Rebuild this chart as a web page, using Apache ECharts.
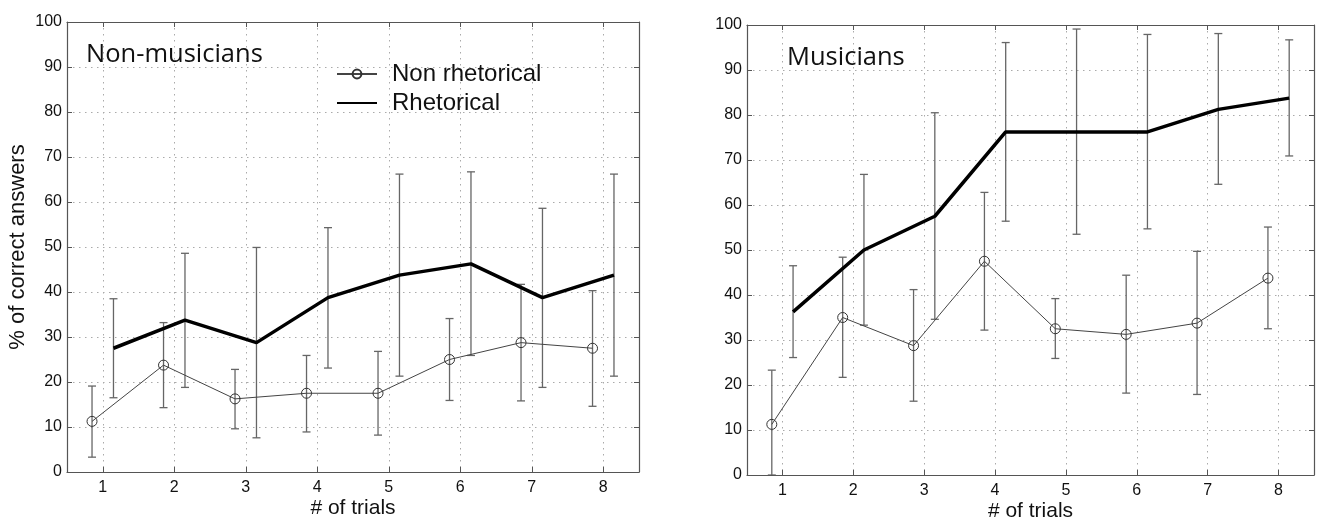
<!DOCTYPE html>
<html>
<head>
<meta charset="utf-8">
<script src="https://cdn.jsdelivr.net/npm/echarts@6/dist/echarts.min.js"></script>
<style>
  html, body { margin: 0; padding: 0; background: #fff; }
  #main { width: 1317px; height: 518px; }
</style>
</head>
<body>
<div id="main"></div>
<script>
// trials on the x axis
const trials = [1, 2, 3, 4, 5, 6, 7, 8];
const yTicks = [0, 10, 20, 30, 40, 50, 60, 70, 80, 90, 100];

// Non-musicians panel
const nmNonRhet = [11.25, 23.75, 16.25, 17.5, 17.5, 25, 28.75, 27.5];
const nmNonRhetLow = [3.3, 14.3, 9.6, 8.9, 8.2, 15.9, 15.8, 14.6];
const nmNonRhetHigh = [19.1, 33.2, 22.8, 25.9, 26.8, 34.1, 41.7, 40.3];
const nmRhet = [27.5, 33.75, 28.75, 38.75, 43.75, 46.25, 38.75, 43.75];
const nmRhetLow = [16.5, 18.8, 7.6, 23.1, 21.3, 25.9, 18.8, 21.3];
const nmRhetHigh = [38.5, 48.6, 49.9, 54.3, 66.2, 66.7, 58.6, 66.2];

// Musicians panel
const mNonRhet = [11.25, 35, 28.75, 47.5, 32.5, 31.25, 33.75, 43.75];
const mNonRhetLow = [0, 21.7, 16.4, 32.2, 25.9, 18.2, 17.9, 32.5];
const mNonRhetHigh = [23.3, 48.4, 41.2, 62.8, 39.2, 44.4, 49.7, 55.1];
const mRhet = [36.25, 50, 57.5, 76.25, 76.25, 76.25, 81.25, 83.75];
const mRhetLow = [26.1, 33.3, 34.6, 56.4, 53.5, 54.7, 64.6, 70.9];
const mRhetHigh = [46.5, 66.8, 80.5, 96.1, 99.1, 97.9, 98.1, 96.7];

const shift = 0.15; // points drawn slightly left / right of the trial
const font = "Liberation Sans";

const chart = echarts.init(document.getElementById("main"));

function pts(vals, dx) {
  return trials.map((t, i) => [t + dx, vals[i]]);
}
function bars(lo, hi, dx) {
  return trials.map((t, i) => [t + dx, lo[i], hi[i]]);
}

// vertical error bar with small caps
function errRender(params, api) {
  const top = api.coord([api.value(0), api.value(2)]);
  const bot = api.coord([api.value(0), api.value(1)]);
  const w = 4;
  const st = { stroke: "#666", lineWidth: 1.3 };
  return {
    type: "group",
    children: [
      { type: "line", shape: { x1: top[0], y1: top[1], x2: bot[0], y2: bot[1] }, style: st },
      { type: "line", shape: { x1: top[0] - w, y1: top[1], x2: top[0] + w, y2: top[1] }, style: st },
      { type: "line", shape: { x1: bot[0] - w, y1: bot[1], x2: bot[0] + w, y2: bot[1] }, style: st },
    ],
  };
}

const frame = { show: true, onZero: false, lineStyle: { color: "#555", width: 1.2 } };
const tick = { show: true, inside: true, length: 5, lineStyle: { color: "#555" } };
const dotted = { show: true, lineStyle: { color: "#aaa", type: [1.5, 4.5], width: 1 } };

function xAxes(gi) {
  return [
    {
      type: "value", gridIndex: gi, min: 0.5, max: 8.5, position: "bottom",
      axisLine: frame,
      axisTick: Object.assign({ customValues: trials }, tick),
      axisLabel: { customValues: trials, color: "#111", fontSize: 16, fontFamily: font, margin: 8 },
      splitLine: dotted,
      name: "# of trials",
      nameLocation: "middle", nameGap: 26, nameMoveOverlap: false,
      nameTextStyle: { color: "#111", fontSize: 21, fontFamily: font },
    },
    {
      type: "value", gridIndex: gi, min: 0.5, max: 8.5, position: "top",
      axisLine: frame,
      axisTick: Object.assign({ customValues: trials }, tick),
      axisLabel: { show: false },
      splitLine: { show: false },
    },
  ];
}

function yAxes(gi, name) {
  return [
    {
      type: "value", gridIndex: gi, min: 0, max: 100, interval: 10, position: "left",
      axisLine: frame, axisTick: tick,
      axisLabel: { color: "#111", fontSize: 16, fontFamily: font, margin: 5 },
      splitLine: dotted,
      name: name, nameLocation: "middle", nameGap: 38,
      nameTextStyle: { color: "#111", fontSize: 22, fontFamily: font },
    },
    {
      type: "value", gridIndex: gi, min: 0, max: 100, interval: 10, position: "right",
      axisLine: frame, axisTick: tick,
      axisLabel: { show: false }, splitLine: { show: false },
    },
  ];
}

function panel(gi, nonRhet, nonLo, nonHi, rhet, rLo, rHi) {
  const xi = gi * 2;
  const yi = gi * 2;
  return [
    {
      type: "custom", xAxisIndex: xi, yAxisIndex: yi, renderItem: errRender,
      data: bars(nonLo, nonHi, -shift), clip: true, z: 1,
    },
    {
      type: "custom", xAxisIndex: xi, yAxisIndex: yi, renderItem: errRender,
      data: bars(rLo, rHi, shift), clip: true, z: 1,
    },
    {
      name: "Non rhetorical", type: "line", xAxisIndex: xi, yAxisIndex: yi,
      data: pts(nonRhet, -shift), symbol: "circle", symbolSize: 10,
      lineStyle: { width: 1, color: "#444" },
      itemStyle: { color: "rgba(0,0,0,0)", borderColor: "#333", borderWidth: 1 }, z: 3,
    },
    {
      name: "Rhetorical", type: "line", xAxisIndex: xi, yAxisIndex: yi,
      data: pts(rhet, shift), symbol: "none",
      lineStyle: { width: 3.5, color: "#000" }, z: 4,
    },
  ];
}

const titleStyle = { fontFamily: "Open Sans", fontSize: 25.5, fontWeight: "normal", color: "#111" };

const option = {
  animation: false,
  backgroundColor: "#fff",
  title: [
    { text: "Non-musicians", left: 86, top: 42, padding: 0, textStyle: titleStyle },
    { text: "Musicians", left: 787, top: 45, padding: 0, textStyle: titleStyle },
  ],
  legend: {
    data: [
      { name: "Non rhetorical" },
      { name: "Rhetorical", itemStyle: { color: "rgba(0,0,0,0)", borderWidth: 0 } },
    ],
    orient: "vertical", left: 331, top: 57, itemWidth: 40, itemHeight: 11, itemGap: 5,
    textStyle: { fontFamily: font, fontSize: 24, color: "#111", padding: [0, 0, 0, 10] },
    selectedMode: false,
  },
  grid: [
    { left: 67, right: 678, top: 22, bottom: 46, outerBoundsMode: "none", containLabel: false },
    { left: 747, right: 3, top: 25, bottom: 43, outerBoundsMode: "none", containLabel: false },
  ],
  xAxis: xAxes(0).concat(xAxes(1)),
  yAxis: yAxes(0, "% of correct answers").concat(yAxes(1, "")),
  series: panel(0, nmNonRhet, nmNonRhetLow, nmNonRhetHigh, nmRhet, nmRhetLow, nmRhetHigh)
    .concat(panel(1, mNonRhet, mNonRhetLow, mNonRhetHigh, mRhet, mRhetLow, mRhetHigh)),
};

chart.setOption(option);
</script>
</body>
</html>
